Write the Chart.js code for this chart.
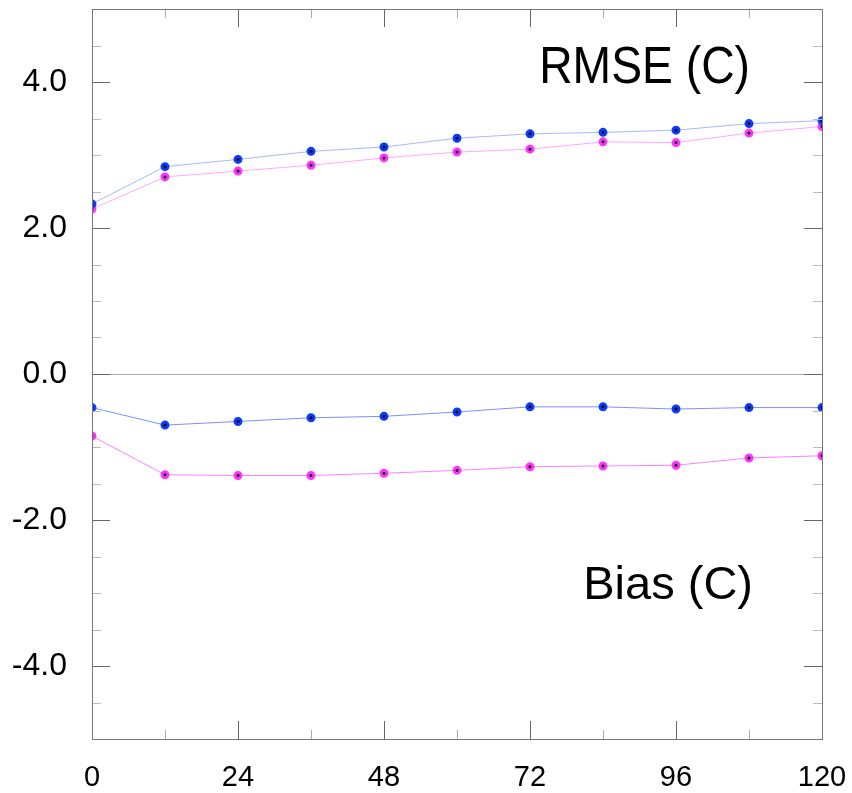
<!DOCTYPE html>
<html>
<head>
<meta charset="utf-8">
<script src="https://cdn.jsdelivr.net/npm/chart.js@4"></script>
<style>
  html, body { margin: 0; padding: 0; background: #fff; }
  #wrap { width: 852px; height: 793px; }
</style>
</head>
<body>
<div id="wrap"><canvas id="chart" width="852" height="793"></canvas></div>
<script>
// forecast hours and scores
const hours = [0, 12, 24, 36, 48, 60, 72, 84, 96, 108, 120];
const rmseBlue = [2.33, 2.84, 2.94, 3.05, 3.11, 3.23, 3.29, 3.31, 3.34, 3.43, 3.47];
const rmsePink = [2.26, 2.70, 2.78, 2.86, 2.96, 3.04, 3.08, 3.18, 3.17, 3.30, 3.39];
const biasBlue = [-0.46, -0.70, -0.65, -0.60, -0.58, -0.52, -0.45, -0.45, -0.48, -0.46, -0.46];
const biasPink = [-0.85, -1.38, -1.39, -1.39, -1.36, -1.32, -1.27, -1.26, -1.25, -1.15, -1.12];

const xTicks = [0, 24, 48, 72, 96, 120];
const xMinor = [12, 36, 60, 84, 108];
const yTicks = [-4, -2, 0, 2, 4];
const yMinor = [-4.5, -3.5, -3, -2.5, -1.5, -1, -0.5, 0.5, 1, 1.5, 2.5, 3, 3.5, 4.5];

const BLUE = "#0a3cff";
const PINK = "#ff33ff";
const FONT = "'Liberation Sans', Arial, Helvetica, sans-serif";

function series(vals, lineColor, markColor) {
  return {
    data: hours.map((h, i) => ({ x: h, y: vals[i] })),
    borderColor: lineColor,
    borderWidth: 1,
    pointRadius: 3,
    pointBorderWidth: 3,
    pointBorderColor: markColor,
    pointBackgroundColor: "#000",
    tension: 0
  };
}

// frame, inward tick marks and the two panel captions
const decor = {
  id: "decor",
  afterDatasetsDraw(c) {
    const { ctx, chartArea: a, scales: { x, y } } = c;
    ctx.save();
    ctx.lineWidth = 1;
    const mark = (vals, len, color, horiz) => {
      ctx.strokeStyle = color;
      ctx.beginPath();
      vals.forEach(v => {
        if (horiz) {
          const px = Math.round(x.getPixelForValue(v)) + 0.5;
          ctx.moveTo(px, a.bottom); ctx.lineTo(px, a.bottom - len);
          ctx.moveTo(px, a.top);    ctx.lineTo(px, a.top + len);
        } else {
          const py = Math.round(y.getPixelForValue(v)) + 0.5;
          ctx.moveTo(a.left, py);  ctx.lineTo(a.left + len, py);
          ctx.moveTo(a.right, py); ctx.lineTo(a.right - len, py);
        }
      });
      ctx.stroke();
    };
    mark(xTicks, 18, "#666", true);
    mark(xMinor, 9, "#aaa", true);
    mark(yTicks, 18, "#666", false);
    mark(yMinor, 9, "#bbb", false);

    ctx.strokeStyle = "#777";
    ctx.strokeRect(a.left + 0.5, a.top + 0.5, a.right - a.left, a.bottom - a.top);

    ctx.fillStyle = "#000";
    ctx.textAlign = "right";
    ctx.textBaseline = "alphabetic";
    ctx.save();
    ctx.translate(a.right - 72, a.top + 74);
    ctx.scale(0.89, 1);
    ctx.font = "52px " + FONT;
    ctx.fillText("RMSE (C)", 0, 0);
    ctx.restore();
    ctx.font = "47px " + FONT;
    ctx.fillText("Bias (C)", a.right - 69, a.top + 590);
    ctx.restore();
  }
};

new Chart(document.getElementById("chart"), {
  type: "line",
  data: {
    datasets: [
      series(rmseBlue, "#a8b8ff", BLUE),
      series(rmsePink, "#ffa8ff", PINK),
      series(biasBlue, "#7a92ff", BLUE),
      series(biasPink, "#ff80ff", PINK)
    ]
  },
  options: {
    responsive: false,
    animation: false,
    layout: { padding: { top: 9, right: 30, left: 0, bottom: 0 } },
    plugins: { legend: { display: false }, tooltip: { enabled: false } },
    scales: {
      x: {
        type: "linear",
        min: 0, max: 120,
        afterBuildTicks: s => { s.ticks = xTicks.map(v => ({ value: v })); },
        afterFit: s => {
          s.height = 54;
          s.paddingLeft = 0; s.paddingRight = 0;
        },
        grid: { display: false },
        border: { display: false },
        ticks: {
          padding: 14,
          maxRotation: 0,
          color: "#000",
          font: { family: FONT, size: 29 },
          callback: v => String(v)
        }
      },
      y: {
        type: "linear",
        min: -5, max: 5,
        afterBuildTicks: s => { s.ticks = yTicks.map(v => ({ value: v })); },
        afterFit: s => {
          s.width = 92;
          s.paddingTop = 0; s.paddingBottom = 0;
        },
        grid: {
          drawTicks: false,
          color: ctx => (ctx.tick && ctx.tick.value === 0 ? "#aaa" : "rgba(0,0,0,0)")
        },
        border: { display: false },
        ticks: {
          padding: 25,
          color: "#000",
          font: { family: FONT, size: 32 },
          callback: v => v.toFixed(1)
        }
      }
    }
  },
  plugins: [decor]
});
</script>
</body>
</html>
